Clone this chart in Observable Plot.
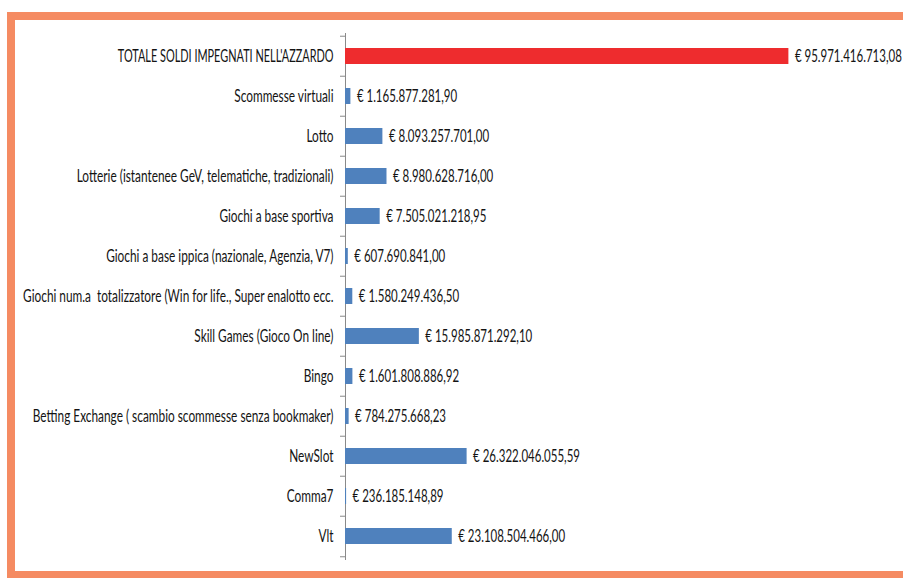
<!DOCTYPE html>
<html>
<head>
<meta charset="utf-8">
<script src="https://cdn.jsdelivr.net/npm/d3@7"></script>
<script src="https://cdn.jsdelivr.net/npm/@observablehq/plot@0.6"></script>
<style>
  html, body { margin: 0; padding: 0; background: #fff; }
  #wrap { position: relative; width: 903px; height: 579px; overflow: hidden; }
  #frame { position: absolute; left: 7px; top: 12px; width: 920px; height: 551px;
           border-top: 8px solid #F58B62; border-left: 8px solid #F58B62; border-bottom: 7px solid #F58B62;
           pointer-events: none; }
  svg { font-family: Lato, "Liberation Sans", Arial, sans-serif; }
</style>
</head>
<body>
<div id="wrap"><div id="frame"></div></div>
<script>
const categories = [
  "TOTALE SOLDI IMPEGNATI NELL'AZZARDO",
  "Scommesse virtuali",
  "Lotto",
  "Lotterie (istantenee GeV, telematiche, tradizionali)",
  "Giochi a base sportiva",
  "Giochi a base ippica (nazionale, Agenzia, V7)",
  "Giochi num.a\u00A0 totalizzatore (Win for life., Super enalotto ecc.",
  "Skill Games (Gioco On line)",
  "Bingo",
  "Betting Exchange ( scambio scommesse senza bookmaker)",
  "NewSlot",
  "Comma7",
  "Vlt"
];
const values = [
  95971416713.08,
  1165877281.90,
  8093257701.00,
  8980628716.00,
  7505021218.95,
  607690841.00,
  1580249436.50,
  15985871292.10,
  1601808886.92,
  784275668.23,
  26322046055.59,
  236185148.89,
  23108504466.00
];
const xDomain = [0, 100e9];

const data = categories.map((c, i) => ({cat: c, value: values[i], total: i === 0}));
const itLocale = d3.formatLocale({decimal: ",", thousands: ".", grouping: [3], currency: ["€ ", ""]});
const fmt = itLocale.format("$,.2f");

const W = 903, H = 579, mTop = 33, mBottom = 19, mLeft = 345, mRight = 96;
const step = (H - mTop - mBottom) / categories.length;
const tickLen = (xDomain[1] - xDomain[0]) / (W - mLeft - mRight) * 5;

const chart = Plot.plot({
  width: W,
  height: H,
  marginTop: mTop,
  marginBottom: mBottom,
  marginLeft: mLeft,
  marginRight: mRight,
  style: {fontSize: "17px", color: "#141414", background: "transparent", overflow: "visible"},
  x: {domain: xDomain, axis: null},
  y: {domain: categories, paddingInner: 0.59, paddingOuter: 0.295, axis: null},
  marks: [
    Plot.ruleX([0], {stroke: "#8a8a8a", strokeWidth: 1}),
    Plot.ruleY(categories, {y: d => d, x1: -tickLen, x2: 0, dy: -step / 2, stroke: "#8a8a8a"}),
    Plot.ruleY(categories.slice(-1), {y: d => d, x1: -tickLen, x2: 0, dy: step / 2, stroke: "#8a8a8a"}),
    Plot.barX(data, {y: "cat", x: "value", fill: d => d.total ? "#EE2C2E" : "#4F81BD"}),
    Plot.axisY({tickSize: 0, tickPadding: 12, fontSize: 17, fill: "#141414", label: null}),
    Plot.text(data, {y: "cat", x: "value", text: d => fmt(d.value), textAnchor: "start", dx: 6, fontSize: 17, fill: "#141414"})
  ]
});
chart.style.position = "absolute";
chart.style.left = "0px";
chart.style.top = "0px";
document.getElementById("wrap").insertBefore(chart, document.getElementById("frame"));

// condense text horizontally (reference uses a narrow face)
const texts = Array.from(chart.querySelectorAll("text"));
const find = s => texts.find(t => t.textContent === s);
const ratio = (s, target, dflt) => { const t = find(s); return t ? target / t.getComputedTextLength() : dflt; };
const totalScale = ratio(categories[0], 216, 0.8);
const labelScale = ratio(categories[9], 301, 0.85);
const valueScale = ratio(fmt(values[10]), 107, 0.8);
const valueSet = new Set(values.map(fmt));
texts.forEach(t => {
  const s = t.textContent;
  const k = s === categories[0] ? totalScale : valueSet.has(s) ? valueScale : labelScale;
  const tr = t.getAttribute("transform");
  if (tr) {
    t.setAttribute("transform", tr + ` scale(${k.toFixed(4)},1)`);
  } else {
    const x = +t.getAttribute("x") || 0;
    t.setAttribute("transform", `translate(${x},0) scale(${k.toFixed(4)},1)`);
    t.setAttribute("x", 0);
  }
});
</script>
</body>
</html>
